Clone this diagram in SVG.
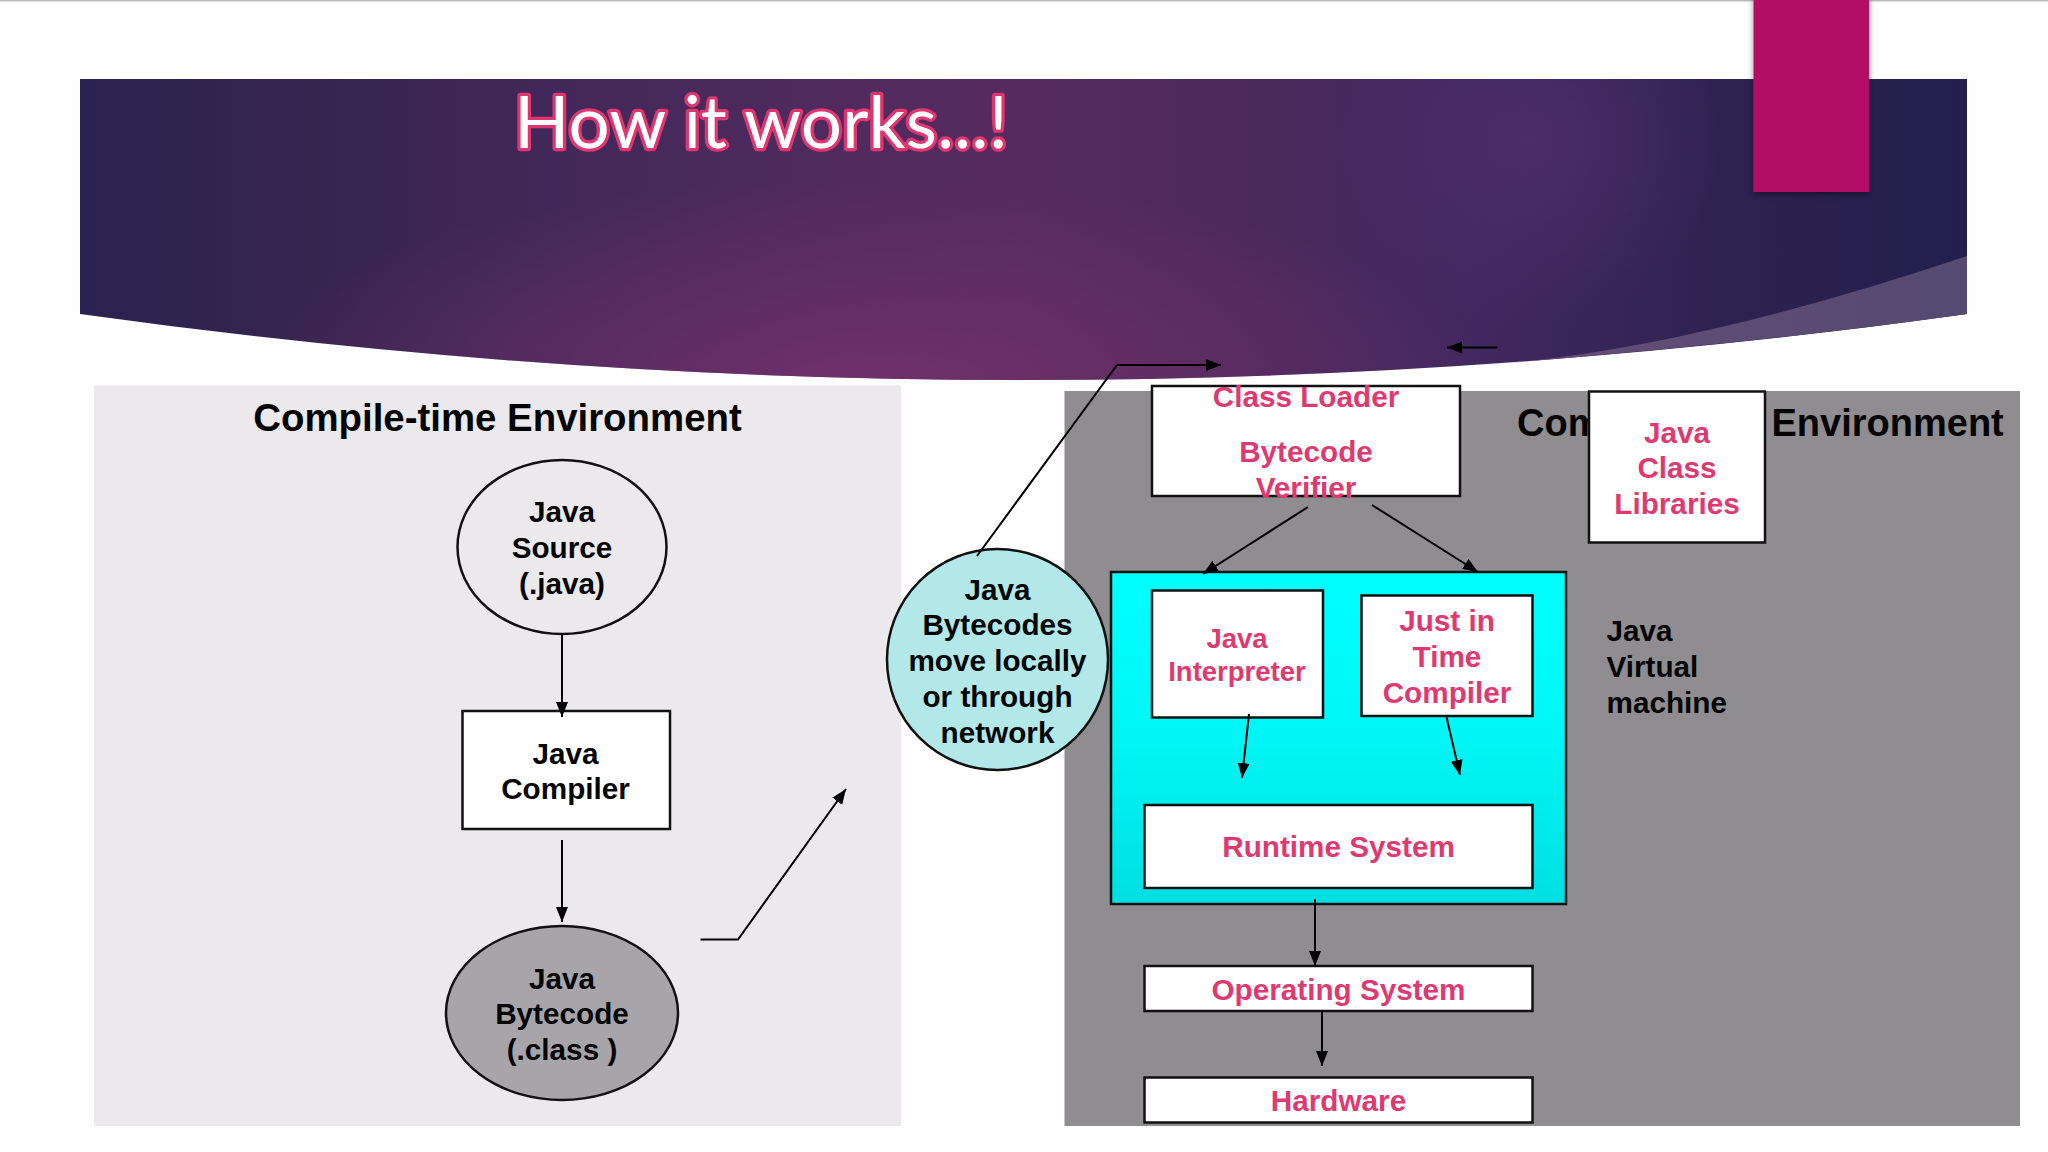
<svg xmlns="http://www.w3.org/2000/svg" width="2048" height="1152" viewBox="0 0 2048 1152">
<defs>
<linearGradient id="banner" x1="80" y1="0" x2="1967" y2="0" gradientUnits="userSpaceOnUse">
<stop offset="0" stop-color="#2a2250"/><stop offset="0.12" stop-color="#36244f"/><stop offset="0.25" stop-color="#42285a"/><stop offset="0.4" stop-color="#502a5e"/><stop offset="0.5" stop-color="#552b60"/><stop offset="0.62" stop-color="#4c295c"/><stop offset="0.74" stop-color="#412860"/><stop offset="0.87" stop-color="#2e2250"/><stop offset="1" stop-color="#231f4c"/>
</linearGradient>
<radialGradient id="glow" cx="0.5" cy="0.5" r="0.5">
<stop offset="0" stop-color="#7a3270" stop-opacity="0.75"/><stop offset="0.6" stop-color="#7a3270" stop-opacity="0.3"/><stop offset="1" stop-color="#7a3270" stop-opacity="0"/>
</radialGradient>
<radialGradient id="blob" cx="0.5" cy="0.5" r="0.5">
<stop offset="0" stop-color="#4c2d6a" stop-opacity="0.9"/><stop offset="1" stop-color="#4c2d6a" stop-opacity="0"/>
</radialGradient>
<clipPath id="bclip"><path d="M80 79H1967V314Q1024 446 80 314Z"/></clipPath>
<linearGradient id="swoosh" x1="1470" y1="0" x2="1967" y2="0" gradientUnits="userSpaceOnUse">
<stop offset="0" stop-color="#684d78"/><stop offset="1" stop-color="#544a72"/>
</linearGradient>
<linearGradient id="cyan" x1="0" y1="0" x2="0" y2="1">
<stop offset="0" stop-color="#00ffff"/><stop offset="0.5" stop-color="#00f6f6"/><stop offset="1" stop-color="#00dfe2"/>
</linearGradient>
<marker id="arr" markerUnits="userSpaceOnUse" markerWidth="16" markerHeight="14" refX="15" refY="6" orient="auto">
<path d="M0 0L15 6L0 12Z" fill="#000"/>
</marker>
<filter id="sh" x="-20%" y="-10%" width="140%" height="120%"><feDropShadow dx="0" dy="3" stdDeviation="3" flood-color="#000" flood-opacity="0.4"/></filter>
</defs>
<style>
text{font-family:"Liberation Sans",Arial,sans-serif;font-weight:700;font-size:29.700px;text-anchor:middle;fill:#050505}
.p{fill:#de3a72}
.box{fill:#fff;stroke:#111;stroke-width:2.500}
.el{stroke:#111;stroke-width:2.500}
.head{font-size:38px}
.c line,.c polyline{fill:none;stroke:#000;stroke-width:2}
.title{font-family:Lato,"Liberation Sans",sans-serif;font-weight:400;font-size:71px;text-anchor:start;fill:#fff;stroke:#e0366f;stroke-width:6.500;paint-order:stroke;stroke-linejoin:round}
</style>
<rect width="2048" height="1152" fill="#fefefe"/>
<rect width="2048" height="1.500" fill="#bdbdbd"/>

<g id="banner-shape">
<path d="M80 79H1967V314Q1024 446 80 314Z" fill="url(#banner)"/>
<g clip-path="url(#bclip)">
<ellipse cx="860" cy="390" rx="640" ry="210" fill="url(#glow)"/>
<ellipse cx="1530" cy="140" rx="190" ry="190" fill="url(#blob)"/>
</g>
<path d="M1967 256Q1676 354 1470 366Q1770 342 1967 314Z" fill="url(#swoosh)"/>
<rect x="1753.500" y="-8" width="115.500" height="200" fill="#b31166" filter="url(#sh)"/>
</g>
<text class="title" x="514" y="148" textLength="494" lengthAdjust="spacingAndGlyphs">How it works...!</text>

<g id="compile-panel">
<rect x="94" y="385.500" width="807" height="740.500" fill="#ebe9ec"/>
<text class="head" x="497.500" y="431" style="font-size:38.400px">Compile-time Environment</text>
</g>
<g id="runtime-panel">
<rect x="1064.500" y="391" width="955.500" height="735" fill="#8f8d90"/>
<text class="head" x="1517" y="436" style="text-anchor:start">Com</text>
<text class="head" x="1771.500" y="436" style="text-anchor:start">Environment</text>
</g>

<g id="java-source">
<ellipse class="el" cx="562" cy="547" rx="104.500" ry="87" fill="#ebe9ec"/>
<text x="562" y="522">Java</text><text x="562" y="558">Source</text><text x="562" y="594">(.java)</text>
</g>
<g id="java-compiler">
<rect class="box" x="462.500" y="711" width="207.500" height="118"/>
<text x="565.500" y="764">Java</text><text x="565.500" y="799">Compiler</text>
</g>
<g id="java-bytecode">
<ellipse class="el" cx="562" cy="1013" rx="116" ry="87" fill="#a7a5a9"/>
<text x="562" y="989">Java</text><text x="562" y="1024">Bytecode</text><text x="562" y="1060">(.class )</text>
</g>
<g id="class-loader">
<rect class="box" x="1152" y="386" width="308" height="110"/>
<text class="p" x="1306" y="407">Class Loader</text><text class="p" x="1306" y="462">Bytecode</text><text class="p" x="1306" y="498">Verifier</text>
</g>
<g id="class-libraries">
<rect class="box" x="1589" y="391.500" width="176" height="151"/>
<text class="p" x="1677" y="443">Java</text><text class="p" x="1677" y="478">Class</text><text class="p" x="1677" y="514">Libraries</text>
</g>
<g id="jvm">
<rect x="1111" y="572" width="455" height="332" fill="url(#cyan)" stroke="#111" stroke-width="2.500"/>
</g>
<g id="bytecodes-move">
<ellipse class="el" cx="997.500" cy="659.500" rx="110.500" ry="110.500" fill="#b2e8e8"/>
<text x="997.500" y="600">Java</text><text x="997.500" y="635">Bytecodes</text><text x="997.500" y="671">move locally</text><text x="997.500" y="707">or through</text><text x="997.500" y="743">network</text>
</g>
<g id="interpreter">
<rect class="box" x="1152" y="590.500" width="171" height="127"/>
<text class="p" x="1237" y="648" style="font-size:27.500px">Java</text><text class="p" x="1237" y="681" style="font-size:27.500px">Interpreter</text>
</g>
<g id="jit">
<rect class="box" x="1361.500" y="595.500" width="171" height="120.500"/>
<text class="p" x="1447" y="631">Just in</text><text class="p" x="1447" y="667">Time</text><text class="p" x="1447" y="703">Compiler</text>
</g>
<g id="runtime-system">
<rect class="box" x="1144.500" y="805" width="388" height="83"/>
<text class="p" x="1338.500" y="857">Runtime System</text>
</g>
<g id="operating-system">
<rect class="box" x="1144.500" y="966" width="388" height="45"/>
<text class="p" x="1338.500" y="999.500">Operating System</text>
</g>
<g id="hardware">
<rect class="box" x="1144.500" y="1077.500" width="388" height="45"/>
<text class="p" x="1338.500" y="1111">Hardware</text>
</g>
<g id="jvm-label">
<text x="1606.500" y="641" style="text-anchor:start">Java</text><text x="1606.500" y="677" style="text-anchor:start">Virtual</text><text x="1606.500" y="713" style="text-anchor:start">machine</text>
</g>

<g id="connectors" class="c">
<line x1="562" y1="634" x2="562" y2="717" marker-end="url(#arr)"/>
<line x1="562" y1="840" x2="562" y2="922" marker-end="url(#arr)"/>
<polyline points="700.500,939.500 738,939.500 846,789" marker-end="url(#arr)"/>
<polyline points="977,556 1117,365 1221,365" marker-end="url(#arr)"/>
<line x1="1497.500" y1="347.500" x2="1447" y2="347.500" marker-end="url(#arr)"/>
<line x1="1308" y1="507" x2="1203" y2="574" marker-end="url(#arr)"/>
<line x1="1372" y1="505" x2="1478" y2="572" marker-end="url(#arr)"/>
<line x1="1249" y1="714" x2="1242" y2="778" marker-end="url(#arr)"/>
<line x1="1446.500" y1="717" x2="1460" y2="775" marker-end="url(#arr)"/>
<line x1="1315" y1="899" x2="1315" y2="966" marker-end="url(#arr)"/>
<line x1="1322" y1="1011" x2="1322" y2="1066" marker-end="url(#arr)"/>
</g>
</svg>
